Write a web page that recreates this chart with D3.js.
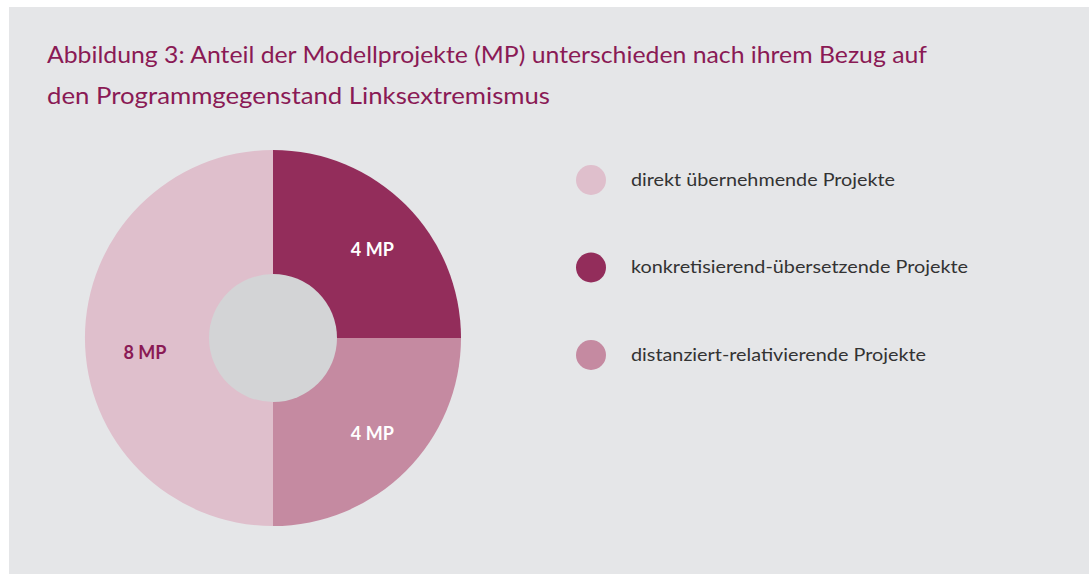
<!DOCTYPE html>
<html lang="de">
<head>
  <meta charset="UTF-8">
  <title>Abbildung 3</title>
  <script src="https://d3js.org/d3.v7.min.js"></script>
  <style>
    body { margin: 0; background: #fff; }
    text { font-family: "Lato", "Noto Sans", sans-serif; }
  </style>
</head>
<body>
<div id="chart"></div>
<script>
// data
const categories = ["direkt übernehmende Projekte", "konkretisierend-übersetzende Projekte", "distanziert-relativierende Projekte"];
const values = [8, 4, 4];
const labels = ["8 MP", "4 MP", "4 MP"];
const colors = ["#dfbfcc", "#932d5b", "#c58aa1"];
const labelColors = ["#8a1a55", "#fff", "#fff"];
const titleLines = [
  "Abbildung 3: Anteil der Modellprojekte (MP) unterschieden nach ihrem Bezug auf",
  "den Programmgegenstand Linksextremismus"
];

const w = 1089, h = 575;

const svg = d3.select("#chart").append("svg")
  .attr("width", w)
  .attr("height", h);

// panel
svg.append("rect")
  .attr("x", 9).attr("y", 7)
  .attr("width", w - 9).attr("height", 567)
  .attr("fill", "#e5e6e8");

// title
const titleWidths = [880, 503];
svg.selectAll(".title")
  .data(titleLines)
  .enter().append("text")
    .attr("class", "title")
    .attr("x", 47)
    .attr("y", (d, i) => 63 + i * 41)
    .attr("font-size", 24)
    .attr("fill", "#8a1a55")
    .attr("textLength", (d, i) => titleWidths[i])
    .attr("lengthAdjust", "spacingAndGlyphs")
    .text(d => d);

// pie
const cx = 273, cy = 338, r = 188;
const g = svg.append("g").attr("transform", `translate(${cx},${cy})`);

const pie = d3.pie().sort(null).startAngle(Math.PI).endAngle(3 * Math.PI);
const arcs = pie(values);
const arc = d3.arc().innerRadius(0).outerRadius(r);
const labelArc = d3.arc().innerRadius(132).outerRadius(132);

g.selectAll("path")
  .data(arcs)
  .enter().append("path")
    .attr("d", arc)
    .attr("fill", (d, i) => colors[i]);

g.append("circle")
  .attr("r", 64)
  .attr("fill", "#d3d4d6");

const nudge = [[4, 15], [6, 5], [6, 2]];
g.selectAll(".lbl")
  .data(arcs)
  .enter().append("text")
    .attr("class", "lbl")
    .attr("transform", (d, i) => {
      const c = labelArc.centroid(d);
      return `translate(${c[0] + nudge[i][0]},${c[1] + nudge[i][1]})`;
    })
    .attr("text-anchor", "middle")
    .attr("dy", "0.35em")
    .attr("font-size", 18)
    .attr("font-weight", "bold")
    .attr("fill", (d, i) => labelColors[i])
    .text((d, i) => labels[i]);

// legend
const legend = svg.selectAll(".leg")
  .data(categories)
  .enter().append("g")
    .attr("class", "leg")
    .attr("transform", (d, i) => `translate(591,${180 + i * 87.5})`);

legend.append("circle")
  .attr("r", 15)
  .attr("fill", (d, i) => colors[i]);

const legWidths = [264, 337, 295];
legend.append("text")
  .attr("x", 40)
  .attr("dy", "0.35em")
  .attr("font-size", 17)
  .attr("fill", "#333")
  .attr("textLength", (d, i) => legWidths[i])
  .attr("lengthAdjust", "spacingAndGlyphs")
  .text(d => d);
</script>
</body>
</html>
